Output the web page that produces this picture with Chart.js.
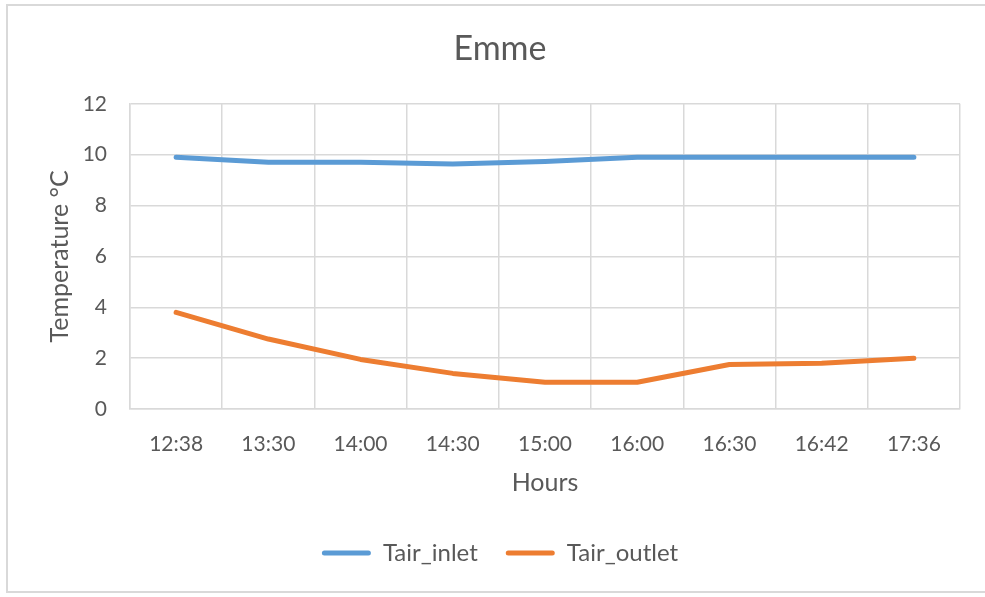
<!DOCTYPE html>
<html>
<head>
<meta charset="utf-8">
<script src="https://cdn.jsdelivr.net/npm/chart.js@4/dist/chart.umd.min.js"></script>
<style>
  html, body { margin: 0; padding: 0; background: #ffffff; }
  #wrap { width: 985px; height: 597px; }
</style>
</head>
<body>
<div id="wrap"><canvas id="chart" width="985" height="597"></canvas></div>
<script>
// Sampling times and measured air temperatures (°C)
const hours = ['12:38', '13:30', '14:00', '14:30', '15:00', '16:00', '16:30', '16:42', '17:36'];
const tairInlet = [9.9, 9.7, 9.7, 9.63, 9.73, 9.9, 9.9, 9.9, 9.9];
const tairOutlet = [3.8, 2.75, 1.95, 1.4, 1.05, 1.05, 1.75, 1.8, 2.0];
const yTicks = [0, 2, 4, 6, 8, 10, 12];

const TEXT = '#595959';
const GRID = '#d9d9d9';
const FONT = 'Lato, "Open Sans", sans-serif';

// white background with a thin frame around the chart
const framePlugin = {
  id: 'frame',
  beforeDraw(chart) {
    const ctx = chart.ctx;
    ctx.save();
    ctx.fillStyle = '#ffffff';
    ctx.fillRect(0, 0, chart.width, chart.height);
    ctx.strokeStyle = GRID;
    ctx.lineWidth = 2;
    ctx.strokeRect(7, 5, chart.width + 20, chart.height - 10);
    ctx.restore();
  }
};

new Chart(document.getElementById('chart'), {
  type: 'line',
  data: {
    labels: hours,
    datasets: [
      {
        label: 'Tair_inlet',
        data: tairInlet,
        borderColor: '#5b9bd5',
        backgroundColor: '#5b9bd5',
        borderWidth: 5,
        borderCapStyle: 'round',
        borderJoinStyle: 'round',
        pointRadius: 0,
        tension: 0
      },
      {
        label: 'Tair_outlet',
        data: tairOutlet,
        borderColor: '#ed7d31',
        backgroundColor: '#ed7d31',
        borderWidth: 5,
        borderCapStyle: 'round',
        borderJoinStyle: 'round',
        pointRadius: 0,
        tension: 0
      }
    ]
  },
  options: {
    responsive: false,
    animation: false,
    layout: { padding: { left: 40, right: 25, top: 0, bottom: 22 } },
    plugins: {
      title: {
        display: true,
        text: 'Emme',
        color: TEXT,
        font: { family: FONT, size: 34, weight: 'normal' },
        padding: { top: 29, bottom: 34 }
      },
      legend: {
        position: 'bottom',
        labels: {
          color: TEXT,
          font: { family: FONT, size: 24 },
          boxWidth: 49,
          boxHeight: 5,
          padding: 28,
          useBorderRadius: true,
          borderRadius: 2.5,
          generateLabels(chart) {
            return chart.data.datasets.map((ds, i) => ({
              text: ds.label,
              fillStyle: ds.borderColor,
              strokeStyle: ds.borderColor,
              lineWidth: 0,
              fontColor: TEXT,
              datasetIndex: i,
              borderRadius: 2.5
            }));
          }
        }
      },
      tooltip: { enabled: false }
    },
    scales: {
      x: {
        offset: true,
        grid: { offset: true, color: GRID, lineWidth: 1.5, drawTicks: false },
        border: { color: GRID, width: 1.5 },
        ticks: { color: TEXT, font: { family: FONT, size: 21 }, padding: 23, maxRotation: 0, autoSkip: false },
        title: {
          display: true,
          text: 'Hours',
          color: TEXT,
          font: { family: FONT, size: 25 },
          padding: { top: 0, bottom: 15 }
        },
        afterFit(scale) { scale.height = 104; }
      },
      y: {
        min: 0,
        max: 12,
        afterBuildTicks(scale) { scale.ticks = yTicks.map(v => ({ value: v })); },
        grid: { color: GRID, lineWidth: 1.5, drawTicks: false },
        border: { color: GRID, width: 1.5 },
        ticks: { color: TEXT, font: { family: FONT, size: 21 }, padding: 23 },
        title: {
          display: true,
          text: 'Temperature °C',
          color: TEXT,
          font: { family: FONT, size: 25 },
          padding: { top: 5, bottom: 0 }
        },
        afterFit(scale) { scale.width = 90; }
      }
    }
  },
  plugins: [framePlugin]
});
</script>
</body>
</html>
